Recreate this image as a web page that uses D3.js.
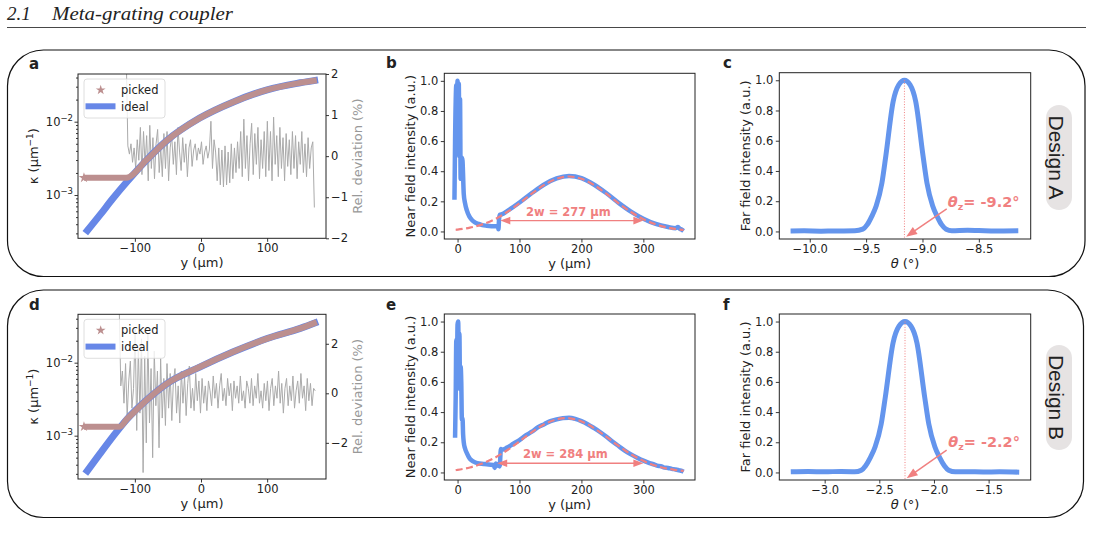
<!DOCTYPE html>
<html>
<head>
<meta charset="utf-8">
<script src="https://cdn.jsdelivr.net/npm/d3@7"></script>
<style>
body { margin: 0; background: #fff; }
svg text { font-family: "DejaVu Sans", sans-serif; fill: #222; }
</style>
</head>
<body>
<svg id="fig" width="1093" height="540"></svg>
<script>
// ---- coupling strength kappa (1/um) vs y (um) ----
var kappaY = [-175, -153, -133, -112, -82, -52, -2, 49, 100, 150, 177];
var idealA = [3.02e-4, 5.31e-4, 9.02e-4, 1.514e-3, 3.02e-3, 5.5e-3, 1.12e-2, 1.86e-2, 2.72e-2, 3.39e-2, 3.72e-2];
var idealD = [3.02e-4, 5.62e-4, 9.77e-4, 1.68e-3, 3.09e-3, 5.13e-3, 8.71e-3, 1.41e-2, 2.14e-2, 2.95e-2, 3.63e-2];
var pickedYA = [-177, -113, -82, -52, -2, 49, 100, 150, 175];
var pickedA = [1.72e-3, 1.72e-3, 3.02e-3, 5.5e-3, 1.12e-2, 1.86e-2, 2.72e-2, 3.39e-2, 3.68e-2];
var pickedYD = [-177, -123, -112, -82, -52, -2, 49, 100, 150, 175];
var pickedD = [1.33e-3, 1.33e-3, 1.68e-3, 3.09e-3, 5.13e-3, 8.71e-3, 1.41e-2, 2.14e-2, 2.95e-2, 3.6e-2];

// ---- relative deviation (%) sampled on a regular y grid ----
var devStartA = -113, devStepA = 2.37;
var devA = [2.4, 0.25, 0.05, 0.3, -0.15, 0.2, -0.3, 0.4, -0.1,
  0.7, -0.45, 0.6, -0.2, 0.5, -0.6, 0.75, -0.3, 0.45, -0.55, 0.3, 0.65, -0.4, 0.2, -0.5, 0.55,
  -0.3, 0.6, -0.6, 0.2, 0.5, -0.2, 0.35, -0.45, 0.7, 0.1, -0.35, 0.45, -0.15, 0.3, -0.5, 0.2,
  0.4, -0.25, 0.15, 0.3, -0.1, 0.2, 0.05, 0.35, -0.2, 0.1, 0.25, -0.05, 0.15, 0.85, -0.3, 0.4,
  0.1, -0.6, 0.2, -0.7, 0.15, -0.75, 0.25, -0.7, 0.1, -0.65, 0.3, -0.55, 0.2, -0.4, 0.35, -0.3,
  0.6, -0.5, 0.9, -0.3, 0.5, -0.6, 0.3, 0.8, -0.45, 0.55, -0.2, 0.7, -0.55, 0.4, -0.3, 0.6,
  -0.5, 0.85, -0.35, 0.6, -0.6, 0.95, -0.2, 0.5, -0.5, 0.7, -0.3, 0.45, -0.6, 0.55, -0.25, 0.4,
  -0.45, 0.6, -0.3, 0.5, -0.55, 0.35, -0.2, 0.6, -0.4, 0.3, -0.5, 0.45, -0.3, 0.2, 0.35, -1.25];
var devStartD = -123.7, devStepD = 2.41;
var devD = [3.5, 0.3, 0.9, -0.4, 1.2, -0.95, 0.5, 1.3, -0.6, 0.2,
  2.6, -1.5, 1.8, -0.8, 2.2, -3.2, 1.5, -2.0, 2.4, -1.2, 1.0, -2.6, 1.7, -0.5, 0.9, -2.2, 1.4, -1.0, 0.6,
  -1.3, 1.2, -0.6, 0.8, -1.1, 0.5, 1.0, -0.8, 0.3, -1.2, 0.9, -0.4, 0.7, -0.9, 0.4, 1.1, -0.6, 0.2, -0.7, 0.8, -0.3, 0.5, -0.8,
  0.6, -0.4, 0.3, -0.7, 0.5, 0.1, -0.5, 0.7, -0.2, 0.4, -0.6, 0.3, 0.8, -0.3, 0.2, -0.5, 0.6, -0.1, 0.4, -0.7, 0.5, -0.2, 0.3, -0.4,
  0.7, -0.3, 0.1, -0.6, 0.5, 0.2, -0.4, 0.6, -0.5, 0.3, -0.2, 0.8, -0.4, 0.1, -0.6, 0.4, -0.3, 0.5, -0.7, 0.2, 0.6, -0.5, 0.3, -0.2,
  0.9, -0.4, 0.4, -0.8, 0.2, 0.6, -0.5, 0.3, -0.3, 0.7, -0.6, 0.1, 0.5, -0.4, 0.8, -0.2, 0.3, -0.7, 0.6, -0.3, 0.4, -0.5, 0.2, 0.1];

// ---- near field intensity vs y (um) ----
var nearYB = [-5, -4, -2, -1, 0, 1, 2, 3, 4, 5, 6, 7, 8, 10, 12, 15, 19, 23, 28, 34, 40, 47, 55, 62, 65,
  66, 67, 68, 72, 80, 100, 120, 140, 160, 180, 200, 220, 240, 260, 280, 300, 320, 340, 352, 356, 358, 362, 365];
var nearB = [0.21, 0.6, 0.97, 0.85, 1.0, 0.92, 0.98, 0.5, 0.88, 0.35, 0.42, 0.49, 0.47, 0.25, 0.19, 0.14, 0.1, 0.077, 0.06, 0.05, 0.042, 0.038, 0.035, 0.034, 0.03,
  0.015, 0.08, 0.11, 0.115, 0.135, 0.192, 0.255, 0.312, 0.352, 0.368, 0.354, 0.312, 0.255, 0.19, 0.132, 0.085, 0.05, 0.03, 0.022, 0.03, 0.02, 0.012, 0.003];
var fitYB = [-3, 0, 20, 40, 60, 70, 80, 100, 120, 140, 160, 180, 200, 220, 240, 260, 280, 300, 320, 340, 360, 365];
var fitB = [0.0111, 0.0124, 0.0253, 0.047, 0.081, 0.103, 0.129, 0.187, 0.251, 0.309, 0.35, 0.365, 0.35, 0.309, 0.251, 0.187, 0.129, 0.081, 0.047, 0.0253, 0.0124, 0.0103];
var nearYE = [-4, -3, -2, -1, 0, 1, 2, 3, 4, 5, 6, 7, 8, 9, 10, 12, 15, 20, 26, 32, 42, 50, 58, 60, 62,
  64, 66, 68, 70, 72, 80, 90, 100, 110, 120, 130, 140, 150, 160, 170, 180, 190, 200, 210, 220,
  230, 240, 250, 260, 270, 280, 290, 300, 310, 318, 322, 328, 334, 340, 346, 352, 358, 362, 365];
var nearE = [0.23, 0.5, 0.88, 0.7, 0.98, 1.0, 0.8, 0.92, 0.55, 0.7, 0.6, 0.35, 0.36, 0.25, 0.2, 0.16, 0.128, 0.09, 0.072, 0.062, 0.056, 0.052, 0.05, 0.03, 0.06,
  0.045, 0.055, 0.04, 0.155, 0.15, 0.165, 0.19, 0.215, 0.245, 0.27, 0.3, 0.32, 0.34, 0.352, 0.36, 0.362, 0.355, 0.34, 0.32, 0.295,
  0.268, 0.238, 0.205, 0.175, 0.145, 0.12, 0.098, 0.078, 0.062, 0.052, 0.045, 0.042, 0.032, 0.03, 0.024, 0.02, 0.014, 0.01, 0.004];
var fitYE = [-3, 0, 20, 40, 60, 80, 100, 120, 140, 160, 175, 190, 210, 230, 250, 270, 290, 310, 330, 350, 365];
var fitE = [0.0155, 0.0173, 0.0332, 0.059, 0.097, 0.147, 0.206, 0.267, 0.319, 0.352, 0.36, 0.352, 0.319, 0.267, 0.206, 0.147, 0.097, 0.059, 0.0332, 0.0173, 0.01];

// ---- far field intensity vs theta (deg) ----
var thetaC = [-10.17, -10.05, -9.9, -9.75, -9.6, -9.53, -9.49, -9.45, -9.41, -9.36, -9.325, -9.26, -9.21, -9.16,
  -9.11, -9.06, -8.995, -8.96, -8.91, -8.87, -8.83, -8.79, -8.74, -8.6, -8.5, -8.35, -8.15];
var farC = [0.003, 0.004, 0.002, 0.003, 0.004, 0.015, 0.045, 0.1, 0.17, 0.32, 0.5, 0.86, 0.97, 1.0,
  0.97, 0.86, 0.5, 0.32, 0.17, 0.1, 0.045, 0.015, 0.005, 0.008, 0.006, 0.003, 0.004];
var thetaF = [-3.31, -3.15, -3.0, -2.85, -2.75, -2.725, -2.665, -2.625, -2.581, -2.538, -2.483, -2.445, -2.374, -2.32,
  -2.265, -2.21, -2.156, -2.085, -2.047, -1.992, -1.949, -1.905, -1.865, -1.805, -1.7, -1.55, -1.4, -1.22];
var farF = [0.004, 0.006, 0.004, 0.007, 0.005, 0.004, 0.015, 0.045, 0.1, 0.17, 0.32, 0.5, 0.86, 0.97,
  1.0, 0.97, 0.86, 0.5, 0.32, 0.17, 0.1, 0.045, 0.015, 0.004, 0.005, 0.003, 0.004, 0.002];

var svg = d3.select("#fig");
var BLUE = "#6495ed", CORAL = "#f08080";

// header
svg.append("text").attr("x", 7).attr("y", 20).attr("font-style", "italic").attr("font-size", 19)
  .style("font-family", "Liberation Serif").text("2.1");
svg.append("text").attr("x", 52).attr("y", 20).attr("font-style", "italic").attr("font-size", 19)
  .style("font-family", "Liberation Serif").attr("textLength", 181).attr("lengthAdjust", "spacingAndGlyphs")
  .text("Meta-grating coupler");
svg.append("line").attr("x1", 7).attr("x2", 1086).attr("y1", 27.5).attr("y2", 27.5)
  .attr("stroke", "#333").attr("stroke-width", 0.9);

function styleAxis(g, fs) {
  g.attr("font-family", "DejaVu Sans").attr("font-size", fs).attr("color", "#222");
  g.select(".domain").remove();
  g.selectAll(".tick line").attr("stroke-width", 0.9);
}

function frame(x0, x1, top, bottom) {
  svg.append("rect").attr("x", x0).attr("y", top).attr("width", x1 - x0).attr("height", bottom - top)
    .attr("fill", "none").attr("stroke", "#222").attr("stroke-width", 1);
}

function letter(t, x, y) {
  svg.append("text").attr("x", x).attr("y", y).attr("font-size", 15).attr("font-weight", "bold").text(t);
}

function yLabel(t, x, cy, color) {
  return svg.append("text").attr("transform", "translate(" + x + "," + cy + ") rotate(-90)")
    .attr("text-anchor", "middle").attr("font-size", 13).style("fill", color || "#222").text(t);
}

function kappaPanel(p) {
  var L = 78, R = 326;
  var x = d3.scaleLinear().domain([-186, 189]).range([L, R]);
  var y = d3.scaleLog().domain(p.kDomain).range([p.bottom, p.top]);
  var yr = d3.scaleLinear().domain(p.devDomain).range([p.bottom, p.top]);

  svg.append("clipPath").attr("id", "clip_" + p.id).append("rect")
    .attr("x", L).attr("y", p.top).attr("width", R - L).attr("height", p.bottom - p.top);

  var dev = p.dev.map(function (v, i) { return [p.devStart + i * p.devStep, v]; });
  svg.append("path").datum(dev)
    .attr("d", d3.line().x(d => x(d[0])).y(d => yr(d[1])))
    .attr("clip-path", "url(#clip_" + p.id + ")")
    .attr("fill", "none").attr("stroke", "#aaaaaa").attr("stroke-width", 1);

  var ideal = kappaY.map((v, i) => [v, p.ideal[i]]);
  var kline = d3.line().curve(d3.curveMonotoneX).x(d => x(d[0])).y(d => y(d[1]));
  svg.append("path").datum(ideal).attr("d", kline)
    .attr("fill", "none").attr("stroke", "#6787e7").attr("stroke-width", 7);

  var picked = p.pickedY.map((v, i) => [v, p.picked[i]]);
  svg.append("path").datum(picked).attr("d", kline)
    .attr("fill", "none").attr("stroke", "#bc8f8f").attr("stroke-width", 6);
  svg.append("path").attr("d", d3.symbol().type(d3.symbolStar).size(34)())
    .attr("transform", "translate(" + x(picked[0][0]) + "," + y(picked[0][1]) + ")")
    .attr("fill", "#bc8f8f");

  frame(L, R, p.top, p.bottom);

  var gx = svg.append("g").attr("transform", "translate(0," + p.bottom + ")")
    .call(d3.axisBottom(x).tickValues([-100, 0, 100]).tickSize(3.5).tickPadding(2).tickFormat(d3.format("d")));
  styleAxis(gx, 11.5);

  var gyMinor = svg.append("g").attr("transform", "translate(" + L + ",0)")
    .call(d3.axisLeft(y).tickValues(p.minor).tickSize(2).tickFormat(""));
  styleAxis(gyMinor, 11.5);
  var gy = svg.append("g").attr("transform", "translate(" + L + ",0)")
    .call(d3.axisLeft(y).tickValues([1e-3, 1e-2]).tickSize(3.5).tickFormat(""));
  styleAxis(gy, 11.5);
  [[1e-3, "\u22123"], [1e-2, "\u22122"]].forEach(function (t) {
    var tx = svg.append("text").attr("x", L - 5).attr("y", y(t[0]) + 4).attr("text-anchor", "end").attr("font-size", 11.5);
    tx.append("tspan").text("10");
    tx.append("tspan").attr("dy", -5).attr("font-size", 8.5).text(t[1]);
  });

  var gr = svg.append("g").attr("transform", "translate(" + R + ",0)")
    .call(d3.axisRight(yr).tickValues(p.devTicks).tickSize(3).tickPadding(2).tickFormat(d3.format("d")));
  styleAxis(gr, 11.5);

  var kl = svg.append("text").attr("transform", "translate(37.5," + ((p.top + p.bottom) / 2) + ") rotate(-90)")
    .attr("text-anchor", "middle").attr("font-size", 13);
  kl.append("tspan").text("\u03ba (\u03bcm");
  kl.append("tspan").attr("dy", -5).attr("font-size", 9).text("\u22121");
  kl.append("tspan").attr("dy", 5).text(")");
  yLabel("Rel. deviation (%)", 361.5, (p.top + p.bottom) / 2, "#999");
  svg.append("text").attr("x", (L + R) / 2).attr("y", p.bottom + 29).attr("text-anchor", "middle")
    .attr("font-size", 13).text("y (\u03bcm)");

  // legend
  var lt = p.top + 5;
  svg.append("rect").attr("x", 84).attr("y", lt).attr("width", 81).attr("height", 39).attr("rx", 3)
    .attr("fill", "#fff").attr("fill-opacity", 0.8).attr("stroke", "#d5d5d5").attr("stroke-width", 0.8);
  svg.append("path").attr("d", d3.symbol().type(d3.symbolStar).size(30)())
    .attr("transform", "translate(100.7," + (lt + 11) + ")").attr("fill", "#bc8f8f");
  svg.append("text").attr("x", 121).attr("y", lt + 15).attr("font-size", 11.5).text("picked");
  svg.append("line").attr("x1", 85.5).attr("x2", 115.5).attr("y1", lt + 27.3).attr("y2", lt + 27.3)
    .attr("stroke", "#6787e7").attr("stroke-width", 6);
  svg.append("text").attr("x", 121).attr("y", lt + 31.5).attr("font-size", 11.5).text("ideal");
}

function arrowHead(tip, from, len, half) {
  var dx = tip[0] - from[0], dy = tip[1] - from[1], n = Math.hypot(dx, dy);
  var ux = dx / n, uy = dy / n;
  var bx = tip[0] - ux * len, by = tip[1] - uy * len;
  return "M" + tip[0] + "," + tip[1] + "L" + (bx - uy * half) + "," + (by + ux * half) +
    "L" + (bx + uy * half) + "," + (by - ux * half) + "Z";
}

function nearPanel(p) {
  var L = 444.3, R = 695;
  var x = d3.scaleLinear().domain([-21.4, 383.4]).range([L, R]);
  var y = d3.scaleLinear().domain([-0.05, 1.05]).range([p.bottom, p.top]);
  var line = d3.line().curve(d3.curveMonotoneX).x(d => x(d[0])).y(d => y(d[1]));

  svg.append("path").datum(p.nearY.map((v, i) => [v, p.near[i]])).attr("d", line)
    .attr("fill", "none").attr("stroke", BLUE).attr("stroke-width", 4.5).attr("stroke-linejoin", "round");
  svg.append("path").datum(p.fitY.map((v, i) => [v, p.fit[i]])).attr("d", line)
    .attr("fill", "none").attr("stroke", CORAL).attr("stroke-width", 2.2).attr("stroke-dasharray", "7,3.5");

  // 2w arrow
  var a0 = [x(p.arrow[0]), y(p.level)], a1 = [x(p.arrow[1]), y(p.level)];
  svg.append("line").attr("x1", a0[0] + 6).attr("x2", a1[0] - 6).attr("y1", a0[1]).attr("y2", a1[1])
    .attr("stroke", CORAL).attr("stroke-width", 1.3);
  svg.append("path").attr("d", arrowHead(a0, a1, 10, 3.8)).attr("fill", CORAL);
  svg.append("path").attr("d", arrowHead(a1, a0, 10, 3.8)).attr("fill", CORAL);
  svg.append("text").attr("x", x(p.labelAt[0])).attr("y", y(p.labelAt[1])).attr("text-anchor", "middle")
    .attr("font-size", 11.5).attr("font-weight", "bold").style("fill", CORAL).text(p.label);

  frame(L, R, p.top, p.bottom);
  var gx = svg.append("g").attr("transform", "translate(0," + p.bottom + ")")
    .call(d3.axisBottom(x).tickValues([0, 100, 200, 300]).tickSize(3.5).tickPadding(2).tickFormat(d3.format("d")));
  styleAxis(gx, 11.5);
  var gy = svg.append("g").attr("transform", "translate(" + L + ",0)")
    .call(d3.axisLeft(y).tickValues([0, 0.2, 0.4, 0.6, 0.8, 1.0]).tickSize(3.5).tickPadding(2.5).tickFormat(d3.format(".1f")));
  styleAxis(gy, 11.5);
  yLabel("Near field intensity (a.u.)", 414.5, (p.top + p.bottom) / 2);
  svg.append("text").attr("x", (L + R) / 2).attr("y", p.bottom + 29).attr("text-anchor", "middle")
    .attr("font-size", 13).text("y (\u03bcm)");
}

function farPanel(p) {
  var L = 779.3, R = 1030.7;
  var x = d3.scaleLinear().domain(p.xDomain).range([L, R]);
  var y = d3.scaleLinear().domain([-0.05, 1.05]).range([p.bottom, p.top]);
  var line = d3.line().curve(d3.curveMonotoneX).x(d => x(d[0])).y(d => y(d[1]));

  svg.append("path").datum(p.theta.map((v, i) => [v, p.far[i]])).attr("d", line)
    .attr("fill", "none").attr("stroke", BLUE).attr("stroke-width", 5).attr("stroke-linejoin", "round");
  svg.append("line").attr("x1", x(p.peak)).attr("x2", x(p.peak)).attr("y1", y(1.0)).attr("y2", y(-0.05))
    .attr("stroke", CORAL).attr("stroke-width", 1).attr("stroke-dasharray", "1,1.65");

  var t0 = [x(p.from[0]), y(p.from[1])], t1 = [x(p.to[0]), y(p.to[1])];
  var dx = t1[0] - t0[0], dy = t1[1] - t0[1], n = Math.hypot(dx, dy);
  svg.append("line").attr("x1", t0[0]).attr("y1", t0[1])
    .attr("x2", t1[0] - dx / n * 8).attr("y2", t1[1] - dy / n * 8)
    .attr("stroke", CORAL).attr("stroke-width", 1.5);
  svg.append("path").attr("d", arrowHead(t1, t0, 11, 4.2)).attr("fill", CORAL);

  var tx = svg.append("text").attr("x", x(p.textAt[0])).attr("y", y(p.textAt[1]))
    .attr("font-size", 14.5).attr("font-weight", "bold").style("fill", CORAL);
  tx.append("tspan").attr("font-style", "italic").style("fill", CORAL).text("\u03b8");
  tx.append("tspan").attr("font-size", 9.5).attr("dy", 3).style("fill", CORAL).text("z");
  tx.append("tspan").attr("dy", -3).style("fill", CORAL).text("= " + p.angle);

  frame(L, R, p.top, p.bottom);
  var gx = svg.append("g").attr("transform", "translate(0," + p.bottom + ")")
    .call(d3.axisBottom(x).tickValues(p.xTicks).tickSize(3.5).tickPadding(2).tickFormat(d3.format(".1f")));
  styleAxis(gx, 11.5);
  var gy = svg.append("g").attr("transform", "translate(" + L + ",0)")
    .call(d3.axisLeft(y).tickValues([0, 0.2, 0.4, 0.6, 0.8, 1.0]).tickSize(3.5).tickPadding(2.5).tickFormat(d3.format(".1f")));
  styleAxis(gy, 11.5);
  yLabel("Far field intensity (a.u.)", 749.5, (p.top + p.bottom) / 2);
  var xl = svg.append("text").attr("x", (L + R) / 2).attr("y", p.bottom + 29).attr("text-anchor", "middle")
    .attr("font-size", 13);
  xl.append("tspan").attr("font-style", "italic").text("\u03b8");
  xl.append("tspan").text(" (\u00b0)");
}

function designTag(t, cy) {
  svg.append("rect").attr("x", 1046).attr("y", cy - 52.5).attr("width", 26).attr("height", 105)
    .attr("rx", 13).attr("fill", "#e6e3e3");
  svg.append("text").attr("transform", "translate(1048.5," + cy + ") rotate(90)")
    .attr("text-anchor", "middle").attr("font-size", 21).style("font-family", "Liberation Sans")
    .text(t);
}

function box(y0, y1, x1) {
  svg.append("rect").attr("x", 7.5).attr("y", y0).attr("width", x1 - 7.5).attr("height", y1 - y0)
    .attr("rx", 36).attr("fill", "none").attr("stroke", "#111").attr("stroke-width", 1.2);
}

var minorLog = [3e-4, 4e-4, 5e-4, 6e-4, 7e-4, 8e-4, 9e-4, 2e-3, 3e-3, 4e-3, 5e-3, 6e-3, 7e-3, 8e-3, 9e-3, 2e-2, 3e-2, 4e-2];

box(50, 276.5, 1085);
box(290, 517.5, 1083.5);

// Design A
letter("a", 29, 68.5); letter("b", 386, 68.3); letter("c", 723, 68.3);
kappaPanel({ id: "a", top: 74, bottom: 238.3, kDomain: [2.57e-4, 4.47e-2], devDomain: [-2, 2], devTicks: [-2, -1, 0, 1, 2],
  ideal: idealA, pickedY: pickedYA, picked: pickedA, dev: devA, devStart: devStartA, devStep: devStepA, minor: minorLog });
nearPanel({ top: 73.3, bottom: 239, nearY: nearYB, near: nearB, fitY: fitYB, fit: fitB,
  arrow: [69, 300], level: 0.072, label: "2w = 277 \u03bcm", labelAt: [179, 0.105] });
farPanel({ top: 72.7, bottom: 239, xDomain: [-10.27, -8.04], xTicks: [-10.0, -9.5, -9.0, -8.5],
  theta: thetaC, far: farC, peak: -9.16, from: [-8.785, 0.15], to: [-9.145, -0.035],
  textAt: [-8.775, 0.16], angle: "-9.2\u00b0" });
designTag("Design A", 157.5);

// Design B
letter("d", 29, 310); letter("e", 386, 310); letter("f", 723, 310);
kappaPanel({ id: "d", top: 314.3, bottom: 479, kDomain: [2.55e-4, 4.6e-2], devDomain: [-3.46, 3.19], devTicks: [-2, 0, 2],
  ideal: idealD, pickedY: pickedYD, picked: pickedD, dev: devD, devStart: devStartD, devStep: devStepD, minor: minorLog });
nearPanel({ top: 314, bottom: 480, nearY: nearYE, near: nearE, fitY: fitYE, fit: fitE,
  arrow: [64, 300], level: 0.061, label: "2w = 284 \u03bcm", labelAt: [174, 0.096] });
farPanel({ top: 314, bottom: 480, xDomain: [-3.415, -1.115], xTicks: [-3.0, -2.5, -2.0, -1.5],
  theta: thetaF, far: farF, peak: -2.265, from: [-1.884, 0.148], to: [-2.25, -0.038],
  textAt: [-1.869, 0.17], angle: "-2.2\u00b0" });
designTag("Design B", 397.5);
</script>
</body>
</html>
